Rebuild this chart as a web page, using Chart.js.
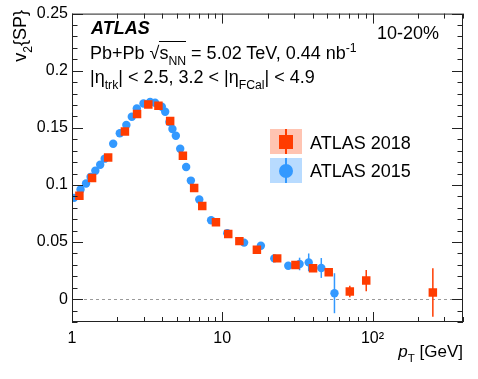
<!DOCTYPE html>
<html>
<head>
<meta charset="utf-8">
<script src="https://cdn.jsdelivr.net/npm/chart.js@4.4.0/dist/chart.umd.min.js"></script>
<style>
  body { margin: 0; background: #fff; }
  #wrap { position: relative; width: 478px; height: 379px; font-family: "Liberation Sans", Arial, sans-serif; color: #000; }
  #myChart { position: absolute; left: 0; top: 0; }
  .txt { position: absolute; white-space: nowrap; font-size: 18px; line-height: 1; }
  .txt sub, .txt sup { font-size: 0.68em; line-height: 0; }
  .txt sub { vertical-align: -0.45em; }
  .txt sup { vertical-align: 0.55em; }
  .ov { border-top: 1px solid #000; padding-top: 1px; }
  .lg { position: absolute; width: 32px; height: 25px; }
  .lg .bar { position: absolute; left: 15px; top: 0; width: 2px; height: 25px; }
  .lg .mk { position: absolute; left: 9px; top: 5.5px; width: 14px; height: 14px; }
</style>
</head>
<body>
<div id="wrap">
  <canvas id="myChart" width="478" height="379"></canvas>

  <div class="txt" style="left:11px; top:10px; transform-origin:0 0; transform:rotate(-90deg) translateX(-100%);">v<sub>2</sub>{SP}</div>
  <div class="txt" style="right:15px; top:343px; font-size:17px;"><i>p</i><sub>T</sub> [GeV]</div>

  <div class="txt" style="left:91px; top:19px; font-weight:bold; font-style:italic;">ATLAS</div>
  <div class="txt" style="left:90px; top:44px;">Pb+Pb √<span class="ov">s<sub>NN</sub></span> = 5.02 TeV, 0.44 nb<sup>-1</sup></div>
  <div class="txt" style="left:90px; top:68px;">|η<sub>trk</sub>| &lt; 2.5, 3.2 &lt; |η<sub>FCal</sub>| &lt; 4.9</div>
  <div class="txt" style="left:377px; top:24px;">10-20%</div>

  <div class="lg" style="left:270px; top:129px; background:rgba(255,60,0,0.3);">
    <div class="bar" style="background:#ff3c00;"></div>
    <div class="mk" style="background:#ff3c00;"></div>
  </div>
  <div class="txt" style="left:310px; top:134px;">ATLAS 2018</div>
  <div class="lg" style="left:270px; top:158px; background:rgba(51,153,255,0.35);">
    <div class="bar" style="background:#3399ff;"></div>
    <div class="mk" style="background:#3399ff; border-radius:50%;"></div>
  </div>
  <div class="txt" style="left:310px; top:162px;">ATLAS 2015</div>
</div>

<script>
  // ATLAS 2018
  const pt2018 = [1.12, 1.36, 1.74, 2.25, 2.71, 3.22, 3.76, 4.5, 5.47, 6.5, 7.36, 9.08, 10.96, 13.0, 17.0, 23.2, 30.7, 40.2, 51.1, 70.6, 90.8, 252]
  const v2018 = [0.0906, 0.106, 0.124, 0.1467, 0.162, 0.1704, 0.1693, 0.156, 0.1256, 0.0974, 0.0815, 0.0673, 0.057, 0.0508, 0.0432, 0.0357, 0.0299, 0.027, 0.0235, 0.0067, 0.0163, 0.0058]
  const err2018 = [0.001, 0.001, 0.001, 0.001, 0.001, 0.001, 0.001, 0.001, 0.001, 0.001, 0.001, 0.001, 0.001, 0.001, 0.001, 0.0012, 0.0015, 0.002, 0.003, 0.005, 0.0093, 0.0213]

  // ATLAS 2015
  const pt2015 = [1.03, 1.14, 1.24, 1.33, 1.43, 1.54, 1.65, 1.88, 2.08, 2.3, 2.5, 2.7, 2.99, 3.31, 3.57, 3.96, 4.17, 4.45, 4.66, 4.91, 5.25, 5.75, 6.18, 7.03, 8.43, 10.8, 13.97, 18.07, 22.2, 27.5, 32.7, 37.6, 45.6, 55.8]
  const v2015 = [0.0887, 0.096, 0.1012, 0.107, 0.1125, 0.1177, 0.123, 0.136, 0.1452, 0.1525, 0.1597, 0.167, 0.1713, 0.1727, 0.172, 0.1684, 0.1641, 0.155, 0.149, 0.143, 0.1317, 0.1157, 0.1038, 0.0873, 0.0691, 0.0578, 0.0495, 0.0467, 0.0357, 0.0293, 0.0308, 0.0322, 0.0273, 0.0052]
  const err2015 = [0.001, 0.001, 0.001, 0.001, 0.001, 0.001, 0.001, 0.001, 0.001, 0.001, 0.001, 0.001, 0.001, 0.001, 0.001, 0.001, 0.001, 0.001, 0.001, 0.001, 0.001, 0.001, 0.001, 0.001, 0.001, 0.001, 0.001, 0.001, 0.001, 0.0015, 0.0055, 0.0078, 0.0087, 0.0175]

  const xTickVals = [1, 10, 100]
  const xTickLabels = ['1', '10', '10²']
  const yTickVals = [0, 0.05, 0.1, 0.15, 0.2, 0.25]
  const yTickLabels = ['0', '0.05', '0.1', '0.15', '0.2', '0.25']

  const red = '#ff3c00'
  const blue = '#3399ff'
  const font = { family: '"Liberation Sans", Arial, sans-serif', size: 16 }

  function toPoints(xs, ys) {
    return xs.map((x, i) => ({ x: x, y: ys[i] }))
  }

  // error bars, zero line, frame and ROOT-style ticks
  const decorations = {
    id: 'decorations',
    beforeDatasetsDraw(chart) {
      const { ctx, chartArea: a, scales: { x, y } } = chart
      ctx.save()
      ctx.strokeStyle = '#9a9a9a'
      ctx.lineWidth = 1
      ctx.setLineDash([3, 3])
      const y0 = Math.round(y.getPixelForValue(0)) + 0.5
      ctx.beginPath()
      ctx.moveTo(a.left, y0)
      ctx.lineTo(a.right, y0)
      ctx.stroke()
      ctx.setLineDash([])
      chart.data.datasets.forEach(ds => {
        ctx.strokeStyle = ds.backgroundColor
        ctx.lineWidth = 1.5
        ds.data.forEach((p, i) => {
          const e = ds.errors[i]
          const px = x.getPixelForValue(p.x)
          ctx.beginPath()
          ctx.moveTo(px, y.getPixelForValue(p.y - e))
          ctx.lineTo(px, y.getPixelForValue(p.y + e))
          ctx.stroke()
        })
      })
      ctx.restore()
    },
    afterDraw(chart) {
      const { ctx, chartArea: a, scales: { x, y } } = chart
      ctx.save()
      ctx.strokeStyle = '#222'
      ctx.lineWidth = 1
      ctx.strokeRect(a.left + 0.5, a.top + 0.5, a.right - a.left - 1, a.bottom - a.top - 1)
      ctx.beginPath()
      for (let k = -2; k <= 25; k++) {
        const py = Math.round(y.getPixelForValue(k / 100)) + 0.5
        const len = k % 5 === 0 ? 11 : 5.5
        ctx.moveTo(a.left, py); ctx.lineTo(a.left + len, py)
        ctx.moveTo(a.right, py); ctx.lineTo(a.right - len, py)
      }
      for (const d of [1, 10, 100]) {
        for (let m = 1; m <= 9; m++) {
          const v = m * d
          if (v > x.max) break
          const px = Math.round(x.getPixelForValue(v)) + 0.5
          const len = m === 1 ? 10 : 5
          ctx.moveTo(px, a.bottom); ctx.lineTo(px, a.bottom - len)
          ctx.moveTo(px, a.top); ctx.lineTo(px, a.top + len)
        }
      }
      ctx.stroke()
      ctx.restore()
    }
  }

  const ctx = document.getElementById('myChart')

  new Chart(ctx, {
    type: 'scatter',
    data: {
      datasets: [{
        label: 'ATLAS 2018',
        data: toPoints(pt2018, v2018),
        errors: err2018,
        backgroundColor: red,
        borderWidth: 0,
        pointStyle: 'rect',
        pointRadius: 6
      }, {
        label: 'ATLAS 2015',
        data: toPoints(pt2015, v2015),
        errors: err2015,
        backgroundColor: blue,
        borderWidth: 0,
        pointStyle: 'circle',
        pointRadius: 4.2
      }]
    },
    options: {
      responsive: false,
      animation: false,
      events: [],
      layout: { padding: { top: 11, right: 15, left: 0, bottom: 0 } },
      scales: {
        x: {
          type: 'logarithmic',
          min: 1,
          max: 400,
          grid: { display: false, drawTicks: false },
          border: { display: false },
          afterBuildTicks: s => { s.ticks = xTickVals.map(v => ({ value: v })) },
          afterFit: s => { s.height = 57 },
          ticks: {
            font: font,
            color: '#000',
            padding: 7,
            maxRotation: 0,
            autoSkip: false,
            callback: (v, i) => xTickLabels[i]
          }
        },
        y: {
          min: -0.02,
          max: 0.25,
          grid: { display: false, drawTicks: false },
          border: { display: false },
          afterBuildTicks: s => { s.ticks = yTickVals.map(v => ({ value: v })) },
          afterFit: s => { s.width = 72 },
          ticks: {
            font: font,
            color: '#000',
            padding: 4,
            callback: (v, i) => yTickLabels[i]
          }
        }
      },
      plugins: {
        legend: { display: false },
        tooltip: { enabled: false }
      }
    },
    plugins: [decorations]
  })
</script>
</body>
</html>
